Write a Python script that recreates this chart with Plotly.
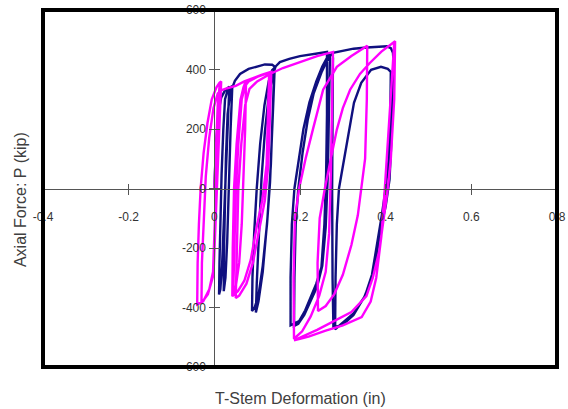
import plotly.graph_objects as go

# ---- data ----
x_ticks = [-0.4, -0.2, 0, 0.2, 0.4, 0.6, 0.8]
x_labels = ["-0.4", "-0.2", "0", "0.2", "0.4", "0.6", "0.8"]
y_ticks = [-600, -400, -200, 0, 200, 400, 600]
y_labels = ["-600", "-400", "-200", "0", "200", "400", "600"]

navy_x = [0, 0.004, 0.01, 0.016, 0.025, 0.035,
          0.031, 0.027, 0.022, 0.018, 0.014, 0.011,
          0.012, 0.014, 0.017, 0.021, 0.025, 0.032, 0.042,
          0.038, 0.034, 0.03, 0.026, 0.022,
          0.022, 0.024, 0.027, 0.031, 0.037, 0.048, 0.06, 0.08, 0.1, 0.118, 0.135, 0.141,
          0.138, 0.134, 0.13, 0.123, 0.113, 0.103, 0.094, 0.088,
          0.089, 0.093, 0.099, 0.107, 0.117, 0.127, 0.135, 0.14,
          0.137, 0.132, 0.124, 0.113, 0.103, 0.097,
          0.099, 0.104, 0.11, 0.118, 0.127, 0.136, 0.143, 0.153, 0.175, 0.2, 0.225, 0.245, 0.263,
          0.263, 0.261, 0.257, 0.25, 0.238, 0.228, 0.212, 0.198, 0.178,
          0.178, 0.181, 0.187, 0.196, 0.208, 0.222, 0.238, 0.252, 0.265, 0.27,
          0.268, 0.265, 0.26, 0.252, 0.24, 0.225, 0.21, 0.196, 0.186,
          0.187, 0.19, 0.196, 0.206, 0.218, 0.232, 0.25, 0.265, 0.277,
          0.3, 0.325, 0.356, 0.385, 0.403, 0.412, 0.417, 0.418,
          0.416, 0.413, 0.409, 0.4, 0.389, 0.378, 0.365, 0.35, 0.325, 0.3, 0.282,
          0.283, 0.286, 0.291, 0.298, 0.31, 0.326, 0.343, 0.366, 0.389, 0.405, 0.412,
          0.411, 0.407, 0.4, 0.391, 0.38, 0.368, 0.352, 0.325, 0.3, 0.278,
          0.276, 0.275, 0.276, 0.277]
navy_y = [0, 150, 260, 305, 330, 342,
          200, 50, -120, -260, -340, -356,
          -250, -100, 50, 200, 300, 335, 345,
          200, 0, -180, -300, -345,
          -250, -100, 100, 250, 320, 362, 385, 402, 410, 417, 416, 410,
          300, 150, 20, -120, -260, -360, -400, -412,
          -300, -150, 0, 150, 280, 360, 398, 405,
          260, 80, -100, -280, -380, -417,
          -320, -150, 30, 190, 310, 380, 410, 425, 436, 445, 450, 455, 459,
          250, 50, -120, -265, -320, -355, -410, -446, -460,
          -300, -120, 0, 90, 200, 290, 360, 410, 445, 452,
          250, 50, -130, -260, -330, -380, -425, -455, -462,
          -300, -120, 0, 120, 230, 320, 390, 435, 456,
          463, 470, 474, 477, 478, 472, 456, 435,
          300, 150, 30, -60, -130, -230, -310, -365, -420, -452, -473,
          -300, -120, 0, 60, 164, 288, 355, 399, 409, 402, 392,
          250, 100, 0, -90, -190, -290, -360, -425, -458, -468,
          -300, 0, 250, 440]

magenta_x = [0, 0.004, 0.008, 0.012, 0.015,
             0.01, 0.006, 0.003, 0.0, -0.003, -0.012, -0.026, -0.04,
             -0.039, -0.036, -0.032, -0.025, -0.016, -0.006, 0.005, 0.012, 0.016,
             0.013, 0.009, 0.006, 0.002, -0.002, -0.015, -0.03,
             -0.029, -0.025, -0.02, -0.012, -0.002, 0.008, 0.016, 0.03, 0.05, 0.07, 0.09, 0.11, 0.128,
             0.126, 0.122, 0.112, 0.1, 0.085, 0.07, 0.055, 0.042,
             0.043, 0.046, 0.052, 0.061, 0.068, 0.074,
             0.072, 0.068, 0.064, 0.058, 0.05, 0.044,
             0.046, 0.05, 0.056, 0.064, 0.072, 0.08, 0.1, 0.12, 0.133,
             0.13, 0.126, 0.118, 0.105, 0.09, 0.075, 0.058, 0.05,
             0.052, 0.056, 0.063, 0.072, 0.082, 0.1, 0.13, 0.16, 0.2, 0.24, 0.277,
             0.275, 0.272, 0.268, 0.26, 0.245, 0.225, 0.205, 0.186,
             0.185, 0.188, 0.198, 0.213, 0.23, 0.254, 0.286, 0.32, 0.357,
             0.356, 0.352, 0.343, 0.335, 0.32, 0.3, 0.28, 0.26, 0.242,
             0.241, 0.246, 0.258, 0.272, 0.286, 0.3, 0.317, 0.34, 0.363, 0.39, 0.419, 0.422,
             0.42, 0.412, 0.405, 0.396, 0.385, 0.37, 0.355, 0.32, 0.28, 0.24, 0.186,
             0.22, 0.26, 0.3, 0.344, 0.365, 0.378, 0.39, 0.398, 0.405, 0.412, 0.418, 0.42]
magenta_y = [0, 150, 280, 340, 358,
             250, 100, -50, -180, -280, -340, -379, -390,
             -250, -120, 0, 120, 220, 300, 340, 355, 360,
             250, 100, -50, -200, -290, -355, -385,
             -250, -100, 40, 170, 270, 320, 330, 337, 345, 360, 372, 382, 390,
             250, 80, -40, -120, -240, -310, -345, -362,
             -200, 0, 150, 298, 340, 362,
             200, 20, -120, -250, -330, -355,
             -200, -20, 150, 300, 345, 360, 375, 385, 392,
             250, 80, -40, -140, -250, -320, -360, -368,
             -200, 0, 150, 280, 335, 360, 385, 405, 425, 445, 459,
             250, 50, -150, -280, -360, -430, -480, -505,
             -300, -100, 0, 100, 198, 332, 409, 445, 480,
             300, 100, 0, -90, -190, -290, -355, -395, -412,
             -250, -100, 0, 100, 198, 270, 332, 385, 422, 460, 489, 495,
             300, 100, 0, -100, -210, -300, -362, -415, -446, -475, -510,
             -498, -478, -460, -432, -380, -300, -160, 0, 150, 300, 430, 490]

# ---- figure ----
tick_font = dict(family="Liberation Sans, Arial, sans-serif", size=12, color="#333333")

fig = go.Figure()
fig.add_trace(go.Scatter(x=navy_x, y=navy_y, mode="lines",
                         line=dict(color="#10107f", width=2.4), showlegend=False))
fig.add_trace(go.Scatter(x=magenta_x, y=magenta_y, mode="lines",
                         line=dict(color="#ff00ff", width=2.4), showlegend=False))
fig.add_trace(go.Scatter(x=[], y=[], xaxis="x2", yaxis="y2", showlegend=False,
                         hoverinfo="skip"))

fig.update_layout(
    width=568, height=409,
    margin=dict(l=43, r=11, t=10, b=42, autoexpand=False),
    paper_bgcolor="white", plot_bgcolor="white",
    showlegend=False,
    xaxis=dict(range=[-0.4, 0.8], anchor="free", position=0.5, automargin=False,
               showline=True, linecolor="#555555", linewidth=1,
               ticks="outside", ticklen=5, tickcolor="#555555", tickwidth=1,
               tickvals=x_ticks, ticktext=x_labels, tickfont=tick_font,
               ticklabelstandoff=12,
               showgrid=False, zeroline=False),
    yaxis=dict(range=[-600, 600], anchor="free", position=1/3, automargin=False,
               showline=True, linecolor="#555555", linewidth=1,
               ticks="outside", ticklen=5, tickcolor="#555555", tickwidth=1,
               tickvals=y_ticks, ticktext=y_labels, tickfont=tick_font,
               ticklabelstandoff=1,
               showgrid=False, zeroline=False),
    xaxis2=dict(range=[-0.4, 0.8], overlaying="x", anchor="free", position=0.5,
                automargin=False,
                showline=False, ticks="inside", ticklen=5, tickcolor="#555555",
                tickvals=x_ticks, showticklabels=False, showgrid=False, zeroline=False),
    yaxis2=dict(range=[-600, 600], overlaying="y", anchor="free", position=1/3,
                automargin=False,
                showline=False, ticks="inside", ticklen=5, tickcolor="#555555",
                tickvals=y_ticks, showticklabels=False, showgrid=False, zeroline=False),
    shapes=[dict(type="rect", xref="paper", yref="paper", x0=0, x1=1, y0=0, y1=1,
                 line=dict(color="black", width=4), layer="above")],
    annotations=[
        dict(text="T-Stem Deformation (in)", xref="paper", yref="paper",
             x=0.5, y=-0.087, xanchor="center", yanchor="middle", showarrow=False,
             font=dict(family="Liberation Sans, Arial, sans-serif", size=16, color="#404040")),
        dict(text="Axial Force: P (kip)", xref="paper", yref="paper",
             x=-0.045, y=0.47, xanchor="center", yanchor="middle", showarrow=False,
             textangle=-90,
             font=dict(family="Liberation Sans, Arial, sans-serif", size=16, color="#404040")),
    ],
)

fig.write_html("out.html")
